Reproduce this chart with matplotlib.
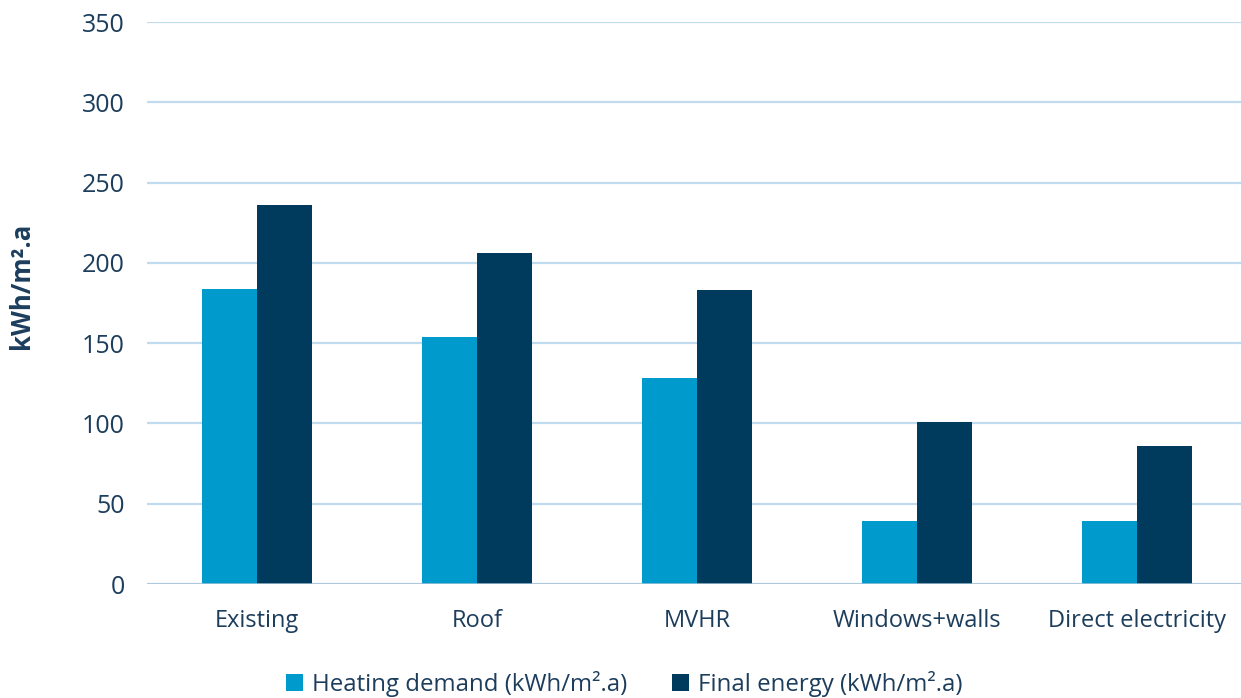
import matplotlib.pyplot as plt
import numpy as np

plt.rcParams['font.family'] = ['Open Sans', 'DejaVu Sans']

categories = ["Existing", "Roof", "MVHR", "Windows+walls", "Direct electricity"]
heating_demand = [184, 154, 128, 39, 39]
final_energy = [236, 206, 183, 101, 86]
series_labels = ["Heating demand (kWh/m\u00b2.a)", "Final energy (kWh/m\u00b2.a)"]
y_ticks = [0, 50, 100, 150, 200, 250, 300, 350]

text_color = "#1c3d5c"
light_blue = "#009bcc"
dark_blue = "#003a5d"

fig = plt.figure(figsize=(12.41, 6.98), dpi=100)
ax = fig.add_axes([147 / 1241, 114 / 698, 1100 / 1241, 562 / 698])

x = np.arange(len(categories))
w = 0.25
ax.bar(x - w / 2, heating_demand, w, color=light_blue, label=series_labels[0], zorder=3)
ax.bar(x + w / 2, final_energy, w, color=dark_blue, label=series_labels[1], zorder=3)

ax.set_xlim(-0.5, len(categories) - 0.5)
ax.set_ylim(0, 350)
ax.set_yticks(y_ticks)
ax.set_xticks(x)
ax.set_xticklabels(categories)
ax.tick_params(axis='both', length=0, labelcolor=text_color)
ax.tick_params(axis='y', pad=16, labelsize=18)
ax.tick_params(axis='x', pad=18, labelsize=17)

ax.yaxis.grid(True, color="#c0daee", linewidth=1.6, zorder=0)
ax.axhline(0, color="#a9c3d6", linewidth=1.8, zorder=4)
for s in ax.spines.values():
    s.set_visible(False)

ax.set_ylabel("kWh/m\u00b2.a", fontsize=18.5, fontweight='bold', color=text_color)
ax.yaxis.set_label_coords(-112 / 1100, 0.53)

fig.legend(loc='lower center', ncol=2, frameon=False, fontsize=17.3,
           labelcolor=text_color, handlelength=0.7, handleheight=0.7,
           handletextpad=0.4, columnspacing=1.85, bbox_to_anchor=(0.503, -0.03))

fig.savefig("out.png", dpi=100)
